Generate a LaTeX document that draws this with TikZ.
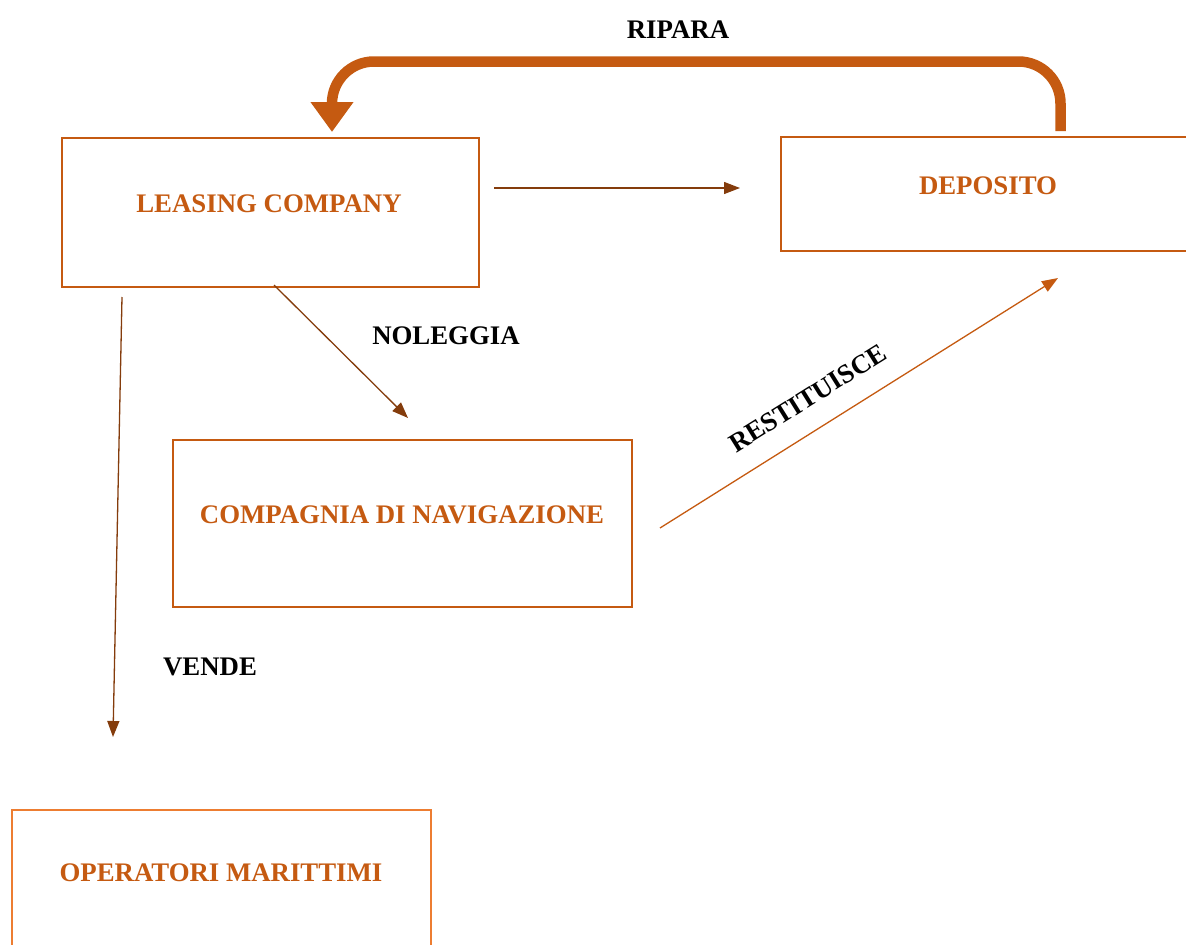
\documentclass[tikz,border=0pt]{standalone}
\usepackage{fontspec}
\setmainfont{Liberation Serif}
\usetikzlibrary{arrows.meta}
\definecolor{boxor}{HTML}{C55A11}
\definecolor{boxlt}{HTML}{ED7D31}
\definecolor{arrbr}{HTML}{843C0C}
\tikzset{
  box/.style={draw=boxor, line width=2.6pt, rectangle},
  boxtext/.style={text=boxor, font=\fontsize{26.8}{30}\selectfont\bfseries},
  lbl/.style={text=black, font=\fontsize{26.8}{30}\selectfont\bfseries},
  thin/.style={draw=arrbr, line width=1.3pt, -{Triangle[length=16pt,width=12pt]}},
  thinor/.style={draw=boxor, line width=1.3pt, -{Triangle[length=16pt,width=12pt]}},
  thick/.style={draw=boxor, line width=10.5pt, -{Triangle[length=30pt,width=41pt]}}
}
\begin{document}
\begin{tikzpicture}[x=1pt,y=-1pt]
\useasboundingbox (0,0) rectangle (1186,945);
\clip (0,0) rectangle (1186,945);
% boxes
\node[box, minimum width=417pt, minimum height=149pt] (leasing) at (270.5,212.5) {};
\node[box, minimum width=430pt, minimum height=114pt] (deposito) at (996,194) {};
\node[box, minimum width=459pt, minimum height=167pt] (compagnia) at (402.5,523.5) {};
\node[box, draw=boxlt, minimum width=419pt, minimum height=170pt] (operatori) at (221.5,895) {};
% texts
\node[boxtext] (tleasing) at (269,204) {LEASING COMPANY};
\node[boxtext] (tdeposito) at (988,186) {DEPOSITO};
\node[boxtext] (tcompagnia) at (402,515) {COMPAGNIA DI NAVIGAZIONE};
\node[boxtext] (toperatori) at (221,873) {OPERATORI MARITTIMI};
% labels
\node[lbl] (lripara) at (678,30) {RIPARA};
\node[lbl] (lnoleggia) at (446,336) {NOLEGGIA};
\node[lbl] (lvende) at (210,667) {VENDE};
\node[lbl, rotate=32] (lrestituisce) at (808,398) {RESTITUISCE};
% connector endpoints
\coordinate (a1) at (494,188);
\coordinate (a2) at (740,188);
\coordinate (b1) at (274,285);
\coordinate (b2) at (408,418);
\coordinate (c1) at (122,297);
\coordinate (c2) at (113,737);
\coordinate (d1) at (660,528);
\coordinate (d2) at (1058,278);
\coordinate (r1) at (1060.5,131);
\coordinate (r2) at (332,132);
% connectors
\draw[thin] (a1) -- (a2);
\draw[thin] (b1) -- (b2);
\draw[thin] (c1) -- (c2);
\draw[thinor] (d1) -- (d2);
\draw[thick, rounded corners=42pt] (r1) -- (1060.5,61.5) -- (332,61.5) -- (r2);
\end{tikzpicture}
\end{document}
